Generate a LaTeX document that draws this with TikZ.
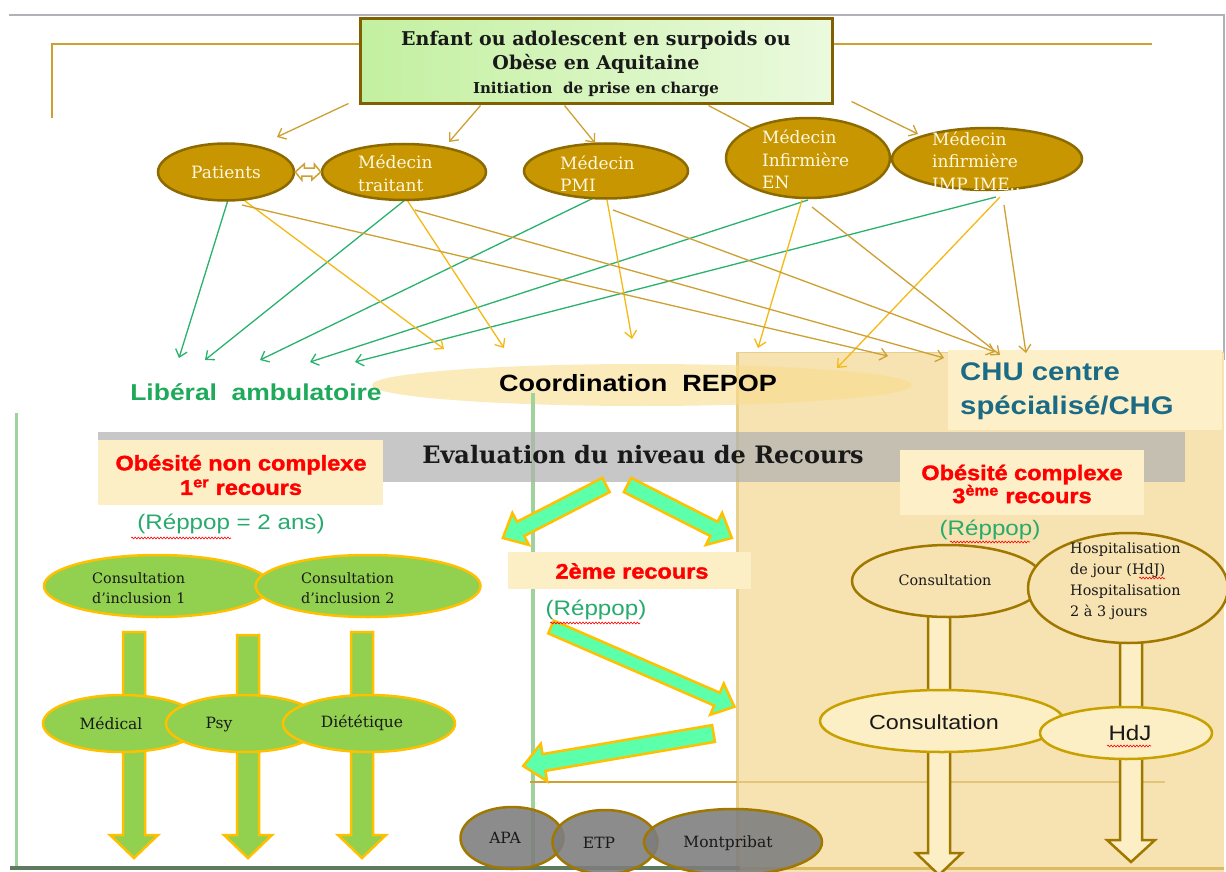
\documentclass[tikz,border=0pt]{standalone}
\usepackage{fontspec}
\setmainfont{DejaVu Serif}
\setsansfont{Liberation Sans}[FakeStretch=1.15]
\newfontfamily\heavysans{Liberation Sans}[FakeStretch=1.12,FakeBold=1.6]
\usetikzlibrary{arrows.meta,calc,shapes.geometric,decorations.pathmorphing}

\definecolor{goldline}{RGB}{205,160,50}
\definecolor{yel}{RGB}{245,185,20}
\definecolor{grn}{RGB}{40,178,110}
\definecolor{ellfill}{RGB}{200,150,0}
\definecolor{elldraw}{RGB}{140,106,0}
\definecolor{elltext}{RGB}{255,248,225}
\definecolor{beige}{RGB}{246,227,177}
\definecolor{beigeedge}{RGB}{233,207,140}
\definecolor{beigelight}{RGB}{253,240,200}
\definecolor{boxfill}{RGB}{253,239,197}
\definecolor{bandgray}{RGB}{176,176,176}
\definecolor{chuteal}{RGB}{27,107,134}
\definecolor{mint}{RGB}{92,255,170}
\definecolor{lgreen}{RGB}{146,208,80}
\definecolor{orng}{RGB}{255,192,0}
\definecolor{dgold}{RGB}{160,120,0}
\definecolor{goldtwo}{RGB}{200,160,0}
\definecolor{rtxt}{RGB}{255,0,0}
\definecolor{repgreen}{RGB}{40,170,110}
\definecolor{libgreen}{RGB}{30,170,90}
\definecolor{vline}{RGB}{160,210,155}
\definecolor{tgL}{RGB}{195,240,160}
\definecolor{tgR}{RGB}{235,250,222}
\definecolor{boxbrd}{RGB}{128,96,0}
\definecolor{coordfill}{RGB}{249,220,140}
\definecolor{framegray}{RGB}{175,178,185}
\definecolor{botline}{RGB}{95,122,95}
\definecolor{grayfill}{RGB}{125,125,125}
\definecolor{darktxt}{RGB}{25,25,25}

\newcommand\blkarrow[8]{%
  \begin{scope}[shift={(#2,#3)},rotate=#4]
    \draw[#1] (0,-#6) -- ({#5-#8},-#6) -- ({#5-#8},-#7) -- (#5,0) -- ({#5-#8},#7) -- ({#5-#8},#6) -- (0,#6) -- cycle;
  \end{scope}}

\begin{document}
\begin{tikzpicture}[x=1pt,y=-1pt,
  topell/.style={ellipse,draw=elldraw,line width=2.5pt,fill=ellfill,inner sep=0pt},
  etxt/.style={text=elltext,font=\fontsize{17}{22.5}\selectfont,align=left,inner sep=0pt,anchor=west},
  conn/.style={line width=1.3pt,-{Straight Barb[length=7pt,width=12pt]}},
  connG/.style={conn,draw=grn},
  connY/.style={conn,draw=yel},
  connD/.style={conn,draw=goldline},
  sertxt/.style={text=darktxt,font=\fontsize{14.4}{20.5}\selectfont,align=left,inner sep=0pt},
  smtxt/.style={text=darktxt,font=\fontsize{15.5}{20}\selectfont,inner sep=0pt},
  redt/.style={text=rtxt,font=\heavysans\bfseries\fontsize{21}{24.5}\selectfont,align=center,inner sep=0pt},
  rept/.style={text=repgreen,font=\sffamily\fontsize{21}{24}\selectfont,inner sep=0pt},
  lgell/.style={ellipse,draw=orng,line width=2.5pt,fill=lgreen,inner sep=0pt},
  lgblk/.style={draw=orng,line width=2.5pt,fill=lgreen},
  hol/.style={draw=dgold,line width=2.5pt,fill=boxfill},
  ell2/.style={ellipse,draw=dgold,line width=2.5pt,fill=beige,inner sep=0pt},
  ell3/.style={ellipse,draw=goldtwo,line width=2.5pt,fill=boxfill,inner sep=0pt},
  mintblk/.style={draw=orng,line width=2.5pt,fill=mint},
  grell/.style={ellipse,draw=dgold,line width=2.5pt,fill=grayfill,fill opacity=0.88,inner sep=0pt},
  wavy/.style={draw=red,line width=0.6pt,decorate,decoration={snake,amplitude=0.9pt,segment length=3.2pt}}
]
\useasboundingbox (0,0) rectangle (1226,872);
\fill[white] (0,0) rectangle (1226,872);

% frame
\draw[framegray,line width=1.5pt] (9,15) -- (1224,15) -- (1224,360);

% right panel
\fill[beige] (736,352) rectangle (1224,872);
\draw[beigeedge,line width=3pt] (737.5,352) -- (737.5,872);
\draw[beigeedge,line width=1.5pt] (736,352.5) -- (1224,352.5);
\fill[beigelight] (948,350) rectangle (1222,430);

% coordination ellipse
\node[ellipse,fill=coordfill,fill opacity=0.6,minimum width=540pt,minimum height=42pt,inner sep=0pt] (coord) at (642,385) {};

% vertical lines and bottom
\draw[vline,line width=3pt] (16,413) -- (16,866);
\draw[vline,line width=4pt] (533,393) -- (533,866);
\draw[botline,line width=4pt] (10,868) -- (740,868);
\draw[goldline!60!beige,line width=3pt] (740,868) -- (1224,868);
\draw[goldline,line width=1.3pt] (530,782) -- (737,782);
\draw[goldline!45!beige,line width=1.3pt] (737,782) -- (1165,782);

% gray band
\fill[bandgray,fill opacity=0.7] (98,432) rectangle (1185,482);
\node[font=\bfseries\fontsize{24}{28}\selectfont,text=darktxt,inner sep=0pt] (eval) at (643,455) {Evaluation du niveau de Recours};

% red boxes
\fill[boxfill] (98,440) rectangle (383,505);
\node[redt] (onc) at (241,475) {Obésité non complexe\\1\textsuperscript{er} recours};
\fill[beigelight] (900,450) rectangle (1144,515);
\node[redt,font=\heavysans\bfseries\fontsize{21}{23}\selectfont] (oc) at (1022,484) {Obésité complexe\\3\textsuperscript{ème} recours};
\fill[boxfill] (508,552) rectangle (751,589);
\node[redt] (r2) at (632,571) {2ème recours};

\node[rept] (rep1) at (231,524) {(Réppop = 2 ans)};
\node[rept] (rep2) at (596,610) {(Réppop)};
\node[rept] (rep3) at (990,530) {(Réppop)};

% left consultations
\node[lgell,minimum width=226pt,minimum height=62pt] (ci1) at (157,586) {};
\node[lgell,minimum width=225pt,minimum height=62pt] (ci2) at (368,586) {};
\node[sertxt,anchor=west] (ci1-l) at (92,588) {Consultation\\d’inclusion 1};
\node[sertxt,anchor=west] (ci2-l) at (301,588) {Consultation\\d’inclusion 2};

\blkarrow{lgblk}{134}{632}{-90}{226}{11}{24}{23}
\blkarrow{lgblk}{248}{635}{-90}{223}{11}{24}{23}
\blkarrow{lgblk}{362}{632}{-90}{226}{11}{24}{23}

\node[lgell,minimum width=158pt,minimum height=57pt] (med) at (122,723.5) {};
\node[lgell,minimum width=156pt,minimum height=57pt] (psy) at (244,723.5) {};
\node[lgell,minimum width=172pt,minimum height=57pt] (die) at (369,723.5) {};
\node[smtxt] (med-l) at (111,723) {Médical};
\node[smtxt] (psy-l) at (219,725) {Psy};
\node[smtxt] (die-l) at (362,723) {Diététique};

% right side
\blkarrow{hol}{939}{612}{-90}{263}{11}{23}{22}
\blkarrow{hol}{1131}{640}{-90}{222}{11}{24}{22}
\node[ell2,minimum width=192pt,minimum height=72pt] (cons1) at (948,581) {};
\node[ell2,minimum width=200pt,minimum height=110pt] (hosp) at (1128,588) {};
\node[sertxt] (cons1-l) at (945,580) {Consultation};
\node[sertxt,anchor=west,font=\fontsize{14.4}{21}\selectfont] (hosp-l) at (1070,581) {Hospitalisation\\de jour (HdJ)\\Hospitalisation\\2 à 3 jours};
\node[ell3,minimum width=244pt,minimum height=62pt] (cons2) at (942,721) {};
\node[ell3,minimum width=172pt,minimum height=52pt] (hdj) at (1126,733) {};
\node[font=\sffamily\fontsize{20.3}{24}\selectfont,text=darktxt,inner sep=0pt] (cons2-l) at (934,722) {Consultation};
\node[font=\sffamily\fontsize{21}{24}\selectfont,text=darktxt,inner sep=0pt] (hdj-l) at (1130,733) {HdJ};

% mint arrows
\blkarrow{mintblk}{606}{485}{-152.8}{116}{8}{18}{20}
\blkarrow{mintblk}{627.5}{485}{-26.9}{117}{8}{18}{20}
\blkarrow{mintblk}{551}{627}{-23.5}{200}{7}{17}{19}
\blkarrow{mintblk}{713.5}{733.5}{-170.3}{193}{8.5}{19}{21}

% gray ellipses
\node[grell,minimum width=103pt,minimum height=62pt] (apa) at (512,838) {};
\node[grell,minimum width=105pt,minimum height=64pt] (etp) at (605,842) {};
\node[grell,minimum width=178pt,minimum height=66pt] (mont) at (733,842) {};
\node[smtxt] (apa-l) at (505,838) {APA};
\node[smtxt] (etp-l) at (599,843) {ETP};
\node[smtxt] (mont-l) at (728,843) {Montpribat};

% bracket
\draw[goldline,line width=1.3pt] (360,44) -- (52,44) -- (52,118);
\draw[goldline,line width=1.3pt] (832,44) -- (1152,44);

% targets
\coordinate (lg1) at (179,358);
\coordinate (lg2) at (205,360);
\coordinate (lg3) at (260,360);
\coordinate (lg4) at (310,362);
\coordinate (lg5) at (355,362);
\coordinate (cy1) at (444,349);
\coordinate (cy2) at (504,348);
\coordinate (cy3) at (632,339);
\coordinate (cy4) at (758,348);
\coordinate (cy5) at (837,368);
\coordinate (cd1) at (888,356);
\coordinate (cd2) at (944,358);
\coordinate (cd3) at (995,352);
\coordinate (cd4) at (1000,355);
\coordinate (cd5) at (1026,353);

\path (226,172) coordinate (patc) (404,172) coordinate (mtc) (606,171) coordinate (pmic) (808,158) coordinate (enc) (987,159) coordinate (impc);

% lower thin arrows (drawn under ellipses)
\draw[connG] ($(patc)+(2,28)$) -- (lg1);
\draw[connG] ($(mtc)+(1,28)$) -- (lg2);
\draw[connG] ($(pmic)+(2,20)$) -- (lg3);
\draw[connG] ($(enc)+(0,42)$) -- (lg4);
\draw[connG] ($(impc)+(9,38)$) -- (lg5);
\draw[connY] ($(patc)+(11,23)$) -- (cy1);
\draw[connY] ($(mtc)+(3,28)$) -- (cy2);
\draw[connY] ($(pmic)+(1,29)$) -- (cy3);
\draw[connY] ($(enc)+(-6,42)$) -- (cy4);
\draw[connY] ($(impc)+(13,38)$) -- (cy5);
\draw[connD] ($(patc)+(16,33)$) -- (cd1);
\draw[connD] ($(mtc)+(11,38)$) -- (cd2);
\draw[connD] ($(pmic)+(7,39)$) -- (cd3);
\draw[connD] ($(enc)+(4,49)$) -- (cd4);
\draw[connD] ($(impc)+(17,46)$) -- (cd5);

% top box
\node[draw=boxbrd,line width=3pt,left color=tgL,right color=tgR,minimum width=472pt,minimum height=85pt,inner sep=0pt] (top) at (596,61.5) {};
\node[align=center,inner sep=0pt,text=darktxt,font=\bfseries\fontsize{19}{24}\selectfont] (top-l) at (596,64) {Enfant ou adolescent en surpoids ou\\Obèse en Aquitaine\\{\fontsize{15}{24}\selectfont Initiation\ \ de prise en charge}};

\draw[goldline,line width=1.3pt] ($(top.south west)+(350,0)$) -- (enc);

\node[topell,minimum width=136pt,minimum height=57pt] (pat) at (patc) {};
\node[topell,minimum width=164pt,minimum height=56pt] (mt) at (mtc) {};
\node[topell,minimum width=164pt,minimum height=55pt] (pmi) at (pmic) {};
\node[topell,minimum width=164pt,minimum height=80pt] (en) at (enc) {};
\node[topell,minimum width=190pt,minimum height=62pt] (imp) at (impc) {};
\node[etxt,anchor=center] (pat-l) at (226,172) {Patients};
\node[etxt] (mt-l) at (358,173.5) {Médecin\\traitant};
\node[etxt] (pmi-l) at (560,173.5) {Médecin\\PMI};
\node[etxt] (en-l) at (762,159.5) {Médecin\\Infirmière\\EN};
\node[etxt] (imp-l) at (932,161) {Médecin\\infirmière\\IMP IME..};

% top arrows
\coordinate (ta1) at (277,137);
\coordinate (ta2) at (449,142);
\coordinate (ta3) at (595,143);
\coordinate (ta5) at (918,134);
\draw[connD] ($(top.south west)+(-10,-2)$) -- (ta1);
\draw[connD] ($(top.south west)+(122,0)$) -- (ta2);
\draw[connD] ($(top.south west)+(206,0)$) -- (ta3);
\draw[connD] ($(top.south east)+(18,-4)$) -- (ta5);

% double arrow patients <-> medecin traitant
\draw[goldline,line width=1.5pt,fill=white] (pat.east) -- ++(9,-8) -- ++(0,4) -- ++(10,0) -- ++(0,-4) -- (mt.west) -- ++(-9,8) -- ++(0,-4) -- ++(-10,0) -- ++(0,4) -- cycle;

% headings
\node[font=\sffamily\bfseries\fontsize{23}{26}\selectfont,text=libgreen,inner sep=0pt] (lib) at (256,392) {Libéral\ \ ambulatoire};
\node[font=\sffamily\bfseries\fontsize{23.5}{26}\selectfont,text=black,inner sep=0pt] (coord-l) at (638,383) {Coordination\ \ REPOP};
\node[font=\sffamily\bfseries\fontsize{25.5}{34}\selectfont,text=chuteal,align=left,inner sep=0pt,anchor=west] (chu) at (960,391) {CHU centre\\spécialisé/CHG};

% spell-check underlines
\draw[wavy] (131,538) -- (231,538);
\draw[wavy] (550,623) -- (640,623);
\draw[wavy] (950,542) -- (1030,542);
\draw[wavy] (1107,746) -- (1151,746);
\draw[wavy] (1139,578) -- (1165,578);
\end{tikzpicture}
\end{document}
